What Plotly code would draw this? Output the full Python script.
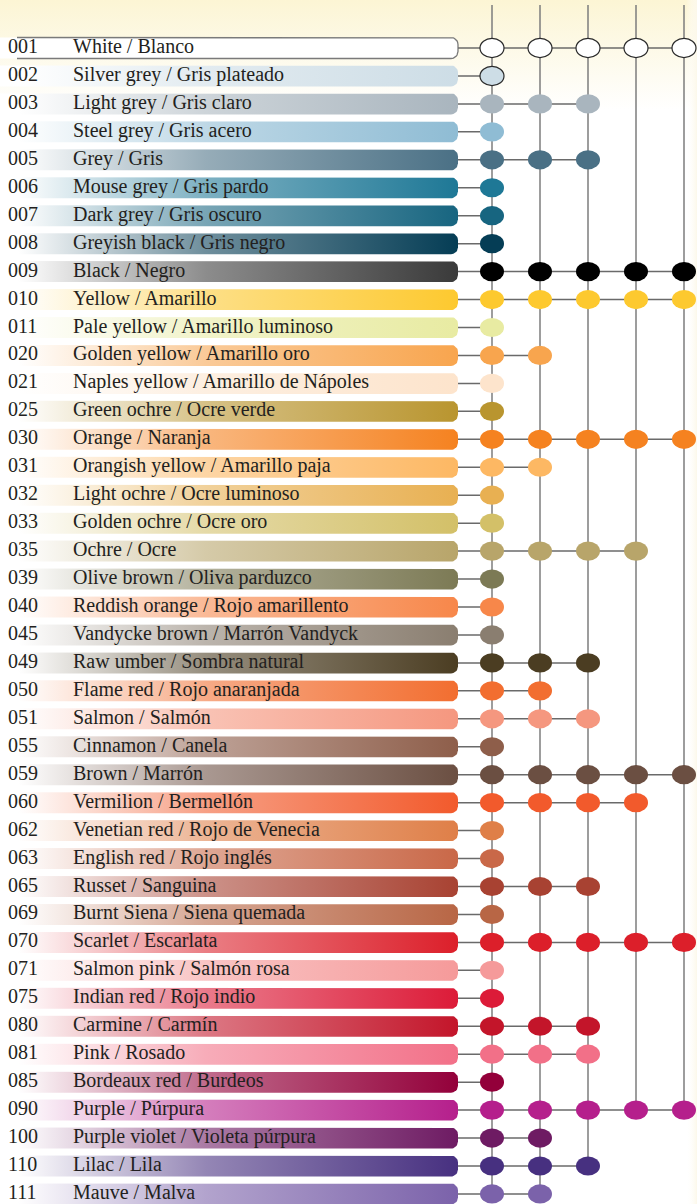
import numpy as np
import plotly.graph_objects as go

CODES = ["001", "002", "003", "004", "005", "006", "007", "008", "009", "010",
         "011", "020", "021", "025", "030", "031", "032", "033", "035", "039",
         "040", "045", "049", "050", "051", "055", "059", "060", "062", "063",
         "065", "069", "070", "071", "075", "080", "081", "085", "090", "100",
         "110", "111"]
NAMES = ["White / Blanco", "Silver grey / Gris plateado", "Light grey / Gris claro",
         "Steel grey / Gris acero", "Grey / Gris", "Mouse grey / Gris pardo",
         "Dark grey / Gris oscuro", "Greyish black / Gris negro", "Black / Negro",
         "Yellow / Amarillo", "Pale yellow / Amarillo luminoso",
         "Golden yellow / Amarillo oro", "Naples yellow / Amarillo de Nápoles",
         "Green ochre / Ocre verde", "Orange / Naranja",
         "Orangish yellow / Amarillo paja", "Light ochre / Ocre luminoso",
         "Golden ochre / Ocre oro", "Ochre / Ocre", "Olive brown / Oliva parduzco",
         "Reddish orange / Rojo amarillento", "Vandycke brown / Marrón Vandyck",
         "Raw umber / Sombra natural", "Flame red / Rojo anaranjada",
         "Salmon / Salmón", "Cinnamon / Canela", "Brown / Marrón",
         "Vermilion / Bermellón", "Venetian red / Rojo de Venecia",
         "English red / Rojo inglés", "Russet / Sanguina",
         "Burnt Siena / Siena quemada", "Scarlet / Escarlata",
         "Salmon pink / Salmón rosa", "Indian red / Rojo indio",
         "Carmine / Carmín", "Pink / Rosado", "Bordeaux red / Burdeos",
         "Purple / Púrpura", "Purple violet / Violeta púrpura", "Lilac / Lila",
         "Mauve / Malva"]
COLORS = ["#ffffff", "#cddde6", "#a9b5be", "#8fbcd4", "#4a7085", "#1e7896",
          "#176580", "#053d55", "#000000", "#fdc92f", "#e8eba2", "#f8a54e",
          "#fde4cc", "#b9952f", "#f58220", "#fdb863", "#e8b052", "#d3c068",
          "#b8a56a", "#7c7a55", "#f7874a", "#8a7e70", "#4b3d22", "#f26e30",
          "#f5977f", "#8e5e4a", "#6b4f42", "#f25a2c", "#df7f48", "#c96848",
          "#a84232", "#b86645", "#dc1f2a", "#f59a9a", "#dc1b38", "#c3152a",
          "#f27088", "#93003a", "#b51f8c", "#6e1b63", "#473080", "#7b62aa"]
# number of assortments (columns, from the left) each colour belongs to
SETS = [5, 1, 3, 1, 3, 1, 1, 1, 5, 5,
        1, 2, 1, 1, 5, 2, 1, 1, 4, 1,
        1, 1, 3, 2, 3, 1, 5, 4, 1, 1,
        3, 1, 5, 1, 1, 3, 3, 1, 5, 2,
        3, 2]
OUTLINED = ["001", "002"]
N_COLS = 5

BAR_COLORS = list(COLORS)
BAR_COLORS[CODES.index("009")] = "#3a3a3a"

# ---- layout constants (pixel-like x units, row units on y) ----
W, H = 697, 1204
ROW0_PX, ROW_PX = 48.0, 27.95
BAR_X1 = 458.0
BAR_HALF = 10.5 / ROW_PX
BAR_R = 7.0
COL_X0, COL_DX = 492.0, 48.0
DOT_RX, DOT_RY = 12.0, 9.6 / ROW_PX
LINE_TOP = (5 - ROW0_PX) / ROW_PX
Y_TOP = -ROW0_PX / ROW_PX
Y_BOT = (H - ROW0_PX) / ROW_PX
FONT = "Liberation Serif"
FSIZE = 20
TXT = "#231f20"

def mix(c, t):
    c = c.lstrip("#")
    r, g, b = int(c[0:2], 16), int(c[2:4], 16), int(c[4:6], 16)
    r = int(r + (255 - r) * t); g = int(g + (255 - g) * t); b = int(b + (255 - b) * t)
    return f"#{r:02x}{g:02x}{b:02x}"

def bar_path(y, x0, x1):
    ry = BAR_R / ROW_PX
    xs = [x0]
    ys = [y - BAR_HALF]
    cx, cy = x1 - BAR_R, y - BAR_HALF + ry
    for t in np.linspace(np.pi / 2, 0, 10):
        xs.append(cx + BAR_R * np.cos(t)); ys.append(cy - ry * np.sin(t))
    cx, cy = x1 - BAR_R, y + BAR_HALF - ry
    for t in np.linspace(0, -np.pi / 2, 10):
        xs.append(cx + BAR_R * np.cos(t)); ys.append(cy - ry * np.sin(t))
    xs.append(x0); ys.append(y + BAR_HALF)
    return xs, ys

fig = go.Figure()

# background tints
TINT_Y = (110 - ROW0_PX) / ROW_PX
fig.add_trace(go.Scatter(
    x=[0, W, W, 0, 0], y=[Y_TOP, Y_TOP, TINT_Y, TINT_Y, Y_TOP],
    fill="toself", mode="lines", line=dict(width=0), hoverinfo="skip", showlegend=False,
    fillgradient=dict(type="vertical", start=Y_TOP, stop=TINT_Y,
                      colorscale=[[0, "#fcf5d4"], [0.4, "#fdf9e6"], [1, "#ffffff"]])))
fig.add_trace(go.Scatter(
    x=[686, W, W, 686, 686], y=[Y_TOP, Y_TOP, Y_BOT, Y_BOT, Y_TOP],
    fill="toself", mode="lines", line=dict(width=0), hoverinfo="skip", showlegend=False,
    fillgradient=dict(type="horizontal", start=686, stop=W,
                      colorscale=[[0, "rgba(255,255,255,0)"], [1, "#fcf8ea"]])))

rows = np.arange(len(CODES))

# bars
for i, (code, col) in enumerate(zip(CODES, BAR_COLORS)):
    xs, ys = bar_path(rows[i], 0, BAR_X1)
    if code == "001":
        fig.add_trace(go.Scatter(x=xs, y=ys, fill="toself", fillcolor="#ffffff", mode="lines",
                                 line=dict(width=0), hoverinfo="skip", showlegend=False))
        fig.add_trace(go.Scatter(x=[17] + xs[1:-1] + [17], y=ys, mode="lines",
                                 line=dict(color="#7a7a7a", width=1.3),
                                 hoverinfo="skip", showlegend=False))
    else:
        fig.add_trace(go.Scatter(
            x=xs, y=ys, fill="toself", mode="lines", line=dict(width=0),
            hoverinfo="skip", showlegend=False,
            fillgradient=dict(type="horizontal", start=0, stop=BAR_X1,
                              colorscale=[[0, "#ffffff"], [0.04, "#ffffff"],
                                          [0.45, mix(col, 0.42)], [1, col]])))

# vertical lines
col_x = COL_X0 + COL_DX * np.arange(N_COLS)
for k in range(N_COLS):
    last = max(i for i in rows if SETS[i] > k)
    fig.add_trace(go.Scatter(x=[col_x[k], col_x[k]], y=[LINE_TOP, rows[last]], mode="lines",
                             line=dict(color="#7d7d7d", width=1.5),
                             hoverinfo="skip", showlegend=False))
# horizontal connectors
hx, hy = [], []
for i in rows:
    hx += [BAR_X1, col_x[SETS[i] - 1], None]
    hy += [rows[i], rows[i], None]
fig.add_trace(go.Scatter(x=hx, y=hy, mode="lines", line=dict(color="#6a6a6a", width=1.5),
                         hoverinfo="skip", showlegend=False))

# dots (ellipses)
shapes = []
for i in rows:
    for k in range(SETS[i]):
        outlined = CODES[i] in OUTLINED
        shapes.append(dict(type="circle", xref="x", yref="y",
                           x0=col_x[k] - DOT_RX, x1=col_x[k] + DOT_RX,
                           y0=rows[i] - DOT_RY, y1=rows[i] + DOT_RY,
                           fillcolor=COLORS[i], layer="above",
                           line=dict(color="#2a2a2a" if outlined else COLORS[i],
                                     width=1.2 if outlined else 0)))

# text
fig.add_trace(go.Scatter(x=[8] * len(CODES), y=rows, text=CODES, mode="text",
                         textposition="middle right",
                         textfont=dict(family=FONT, size=FSIZE, color=TXT),
                         hoverinfo="skip", showlegend=False))
fig.add_trace(go.Scatter(x=[73] * len(CODES), y=rows, text=NAMES, mode="text",
                         textposition="middle right",
                         textfont=dict(family=FONT, size=FSIZE, color=TXT),
                         hoverinfo="skip", showlegend=False))

fig.update_layout(
    width=W, height=H, margin=dict(l=0, r=0, t=0, b=0),
    paper_bgcolor="#ffffff", plot_bgcolor="#ffffff",
    xaxis=dict(range=[0, W], visible=False, fixedrange=True),
    yaxis=dict(range=[Y_BOT, Y_TOP], visible=False, fixedrange=True),
    shapes=shapes, showlegend=False,
)
fig.write_html("out.html", config={"displayModeBar": False},
               post_script="document.body.style.margin='0';document.body.style.overflow='hidden';")
